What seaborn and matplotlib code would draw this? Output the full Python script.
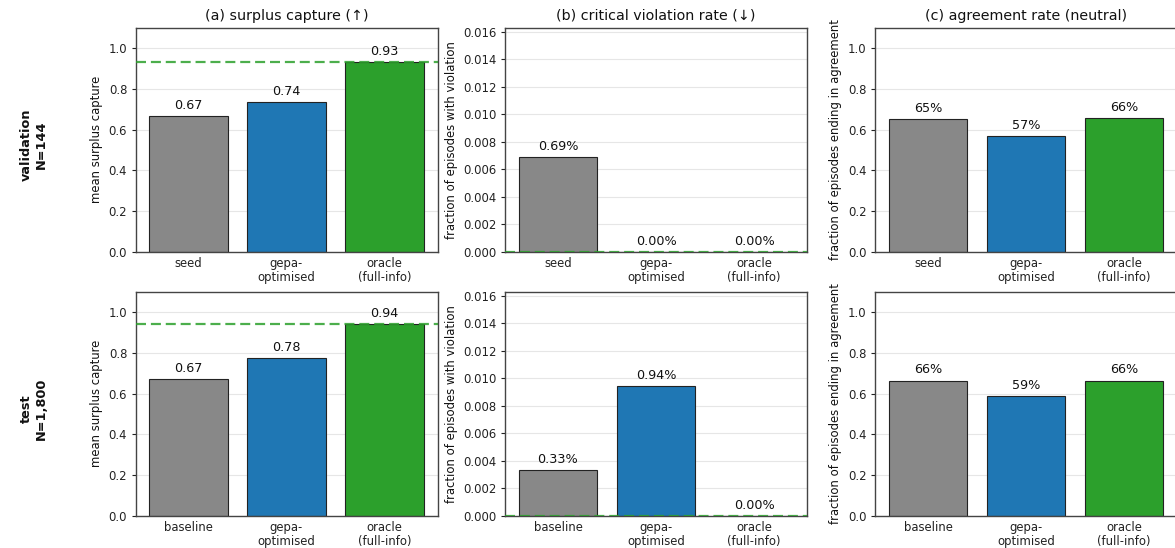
import matplotlib
matplotlib.use("Agg")
import matplotlib.pyplot as plt
import matplotlib.ticker as mticker
import seaborn as sns
import numpy as np

# --- data -------------------------------------------------------------------
row_names = ["validation\nN=144", "test\nN=1,800"]
val_conditions = ["seed", "gepa-\noptimised", "oracle\n(full-info)"]
test_conditions = ["baseline", "gepa-\noptimised", "oracle\n(full-info)"]

val_surplus = [0.667, 0.736, 0.934]
test_surplus = [0.673, 0.776, 0.942]

val_violation = [0.0069, 0.0, 0.0]
test_violation = [0.0033, 0.0094, 0.0]

val_agreement = [0.653, 0.568, 0.658]
test_agreement = [0.664, 0.588, 0.664]

panel_titles = ["(a) surplus capture (\u2191)",
                "(b) critical violation rate (\u2193)",
                "(c) agreement rate (neutral)"]
y_labels = ["mean surplus capture",
            "fraction of episodes with violation",
            "fraction of episodes ending in agreement"]

bar_colors = ["#888888", "#1f77b4", "#2ca02c"]

# --- style ------------------------------------------------------------------
sns.set_theme(style="ticks")
plt.rcParams["font.family"] = ["DejaVu Sans"]
plt.rcParams.update({
    "axes.edgecolor": "#444444",
    "axes.linewidth": 1.0,
    "xtick.color": "#222222",
    "ytick.color": "#222222",
    "xtick.labelsize": 8.4,
    "ytick.labelsize": 8.4,
    "xtick.major.size": 0.0,
    "ytick.major.size": 3.0,
    "ytick.major.width": 0.8,
    "xtick.major.pad": 4.0,
    "ytick.major.pad": 3.0,
    "axes.labelpad": 4.0,
})

fig = plt.figure(figsize=(11.75, 5.48), dpi=100)

W = 1175.0
H = 548.0
lefts = [135.5, 505.0, 875.0]
tops = [28.0, 292.0]
ax_w = 302.0
ax_h = 223.7

rows = [
    (val_conditions, [val_surplus, val_violation, val_agreement]),
    (test_conditions, [test_surplus, test_violation, test_agreement]),
]
ylims = [1.1, 0.01627, 1.1]
fmts = [lambda v: f"{v:.2f}", lambda v: f"{v * 100:.2f}%", lambda v: f"{v * 100:.0f}%"]

for r, (conds, metrics) in enumerate(rows):
    for c, vals in enumerate(metrics):
        ax = fig.add_axes([lefts[c] / W, 1 - (tops[r] + ax_h) / H, ax_w / W, ax_h / H])
        ax.set_axisbelow(True)
        ax.grid(axis="y", color="#e6e6e6", linewidth=0.8)
        sns.barplot(x=conds, y=vals, hue=conds, palette=bar_colors, legend=False,
                    edgecolor="#222222", linewidth=0.8, width=0.8, saturation=1,
                    ax=ax)
        ax.set_xlim(-0.54, 2.54)
        ax.set_ylim(0, ylims[c])
        for cont in ax.containers:
            ax.bar_label(cont, labels=[fmts[c](v) for v in cont.datavalues],
                         padding=3, fontsize=9.2, color="#111111")
        if c in (0, 1):
            ax.axhline(vals[2], color="#2ca02c", linestyle=(0, (4.5, 2.2)),
                       linewidth=1.6, alpha=0.85, zorder=3)
        ax.set_ylabel(y_labels[c], fontsize=8.4, color="#111111")
        ax.set_xlabel("")
        for lbl in ax.get_xticklabels():
            lbl.set_linespacing(1.1)
        if c == 1:
            ax.set_yticks(np.arange(0, 0.0161, 0.002))
            ax.yaxis.set_major_formatter(mticker.FormatStrFormatter("%.3f"))
        else:
            ax.set_yticks(np.arange(0, 1.01, 0.2))
            ax.yaxis.set_major_formatter(mticker.FormatStrFormatter("%.1f"))
        if r == 0:
            ax.set_title(panel_titles[c], fontsize=10.3, color="#111111", pad=6)

for r, name in enumerate(row_names):
    yc = 1 - (tops[r] + ax_h / 2 + 5) / H
    fig.text(0.029, yc, name, rotation=90, ha="center", va="center",
             fontsize=9.3, fontweight="bold", color="#111111")

fig.savefig("out.png", dpi=100)
